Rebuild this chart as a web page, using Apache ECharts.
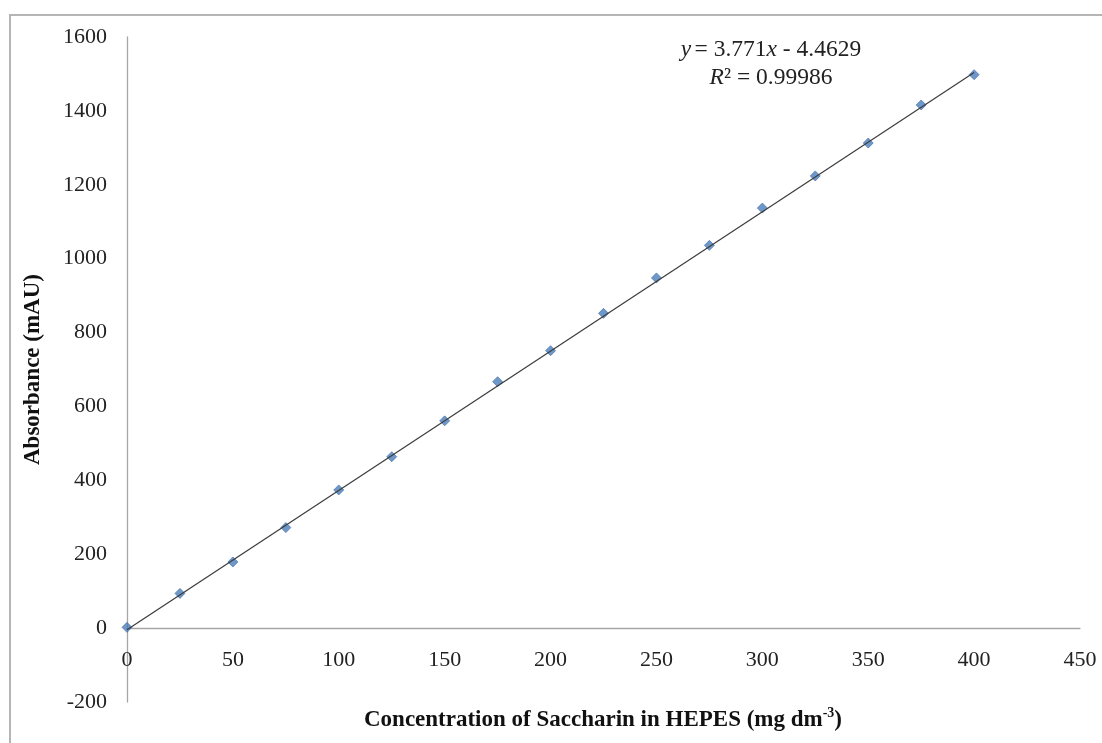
<!DOCTYPE html>
<html>
<head>
<meta charset="utf-8">
<script src="https://cdn.jsdelivr.net/npm/echarts@6/dist/echarts.min.js"></script>
<style>
html,body{margin:0;padding:0;background:#fff;}
#chart{width:1102px;height:743px;}
</style>
</head>
<body>
<div id="chart"></div>
<script>
// Data
var concentrations = [0, 25, 50, 75, 100, 125, 150, 175, 200, 225, 250, 275, 300, 325, 350, 375, 400];
var absorbance = [2, 94, 179, 272, 374, 464, 561, 667, 751, 852, 948, 1036, 1137, 1224, 1313, 1416, 1498];
// Trendline as reported on the chart
var trendSlope = 3.771;
var trendIntercept = -4.4629;
var trendRange = [0, 400];
var xTicks = {min: 0, max: 450, interval: 50};
var yTicks = {min: -200, max: 1600, interval: 200};

var FONT = '"Liberation Serif", "Times New Roman", serif';

var scatterData = concentrations.map(function (c, i) { return [c, absorbance[i]]; });
var trendData = trendRange.map(function (x) { return [x, trendSlope * x + trendIntercept]; });

var chart = echarts.init(document.getElementById('chart'), null, {renderer: 'canvas'});
chart.setOption({
  backgroundColor: '#ffffff',
  animation: false,
  grid: {left: 127, right: 22, top: 37, bottom: 41, containLabel: false},
  xAxis: {
    type: 'value',
    min: xTicks.min, max: xTicks.max, interval: xTicks.interval,
    axisLine: {show: true, onZero: true, lineStyle: {color: '#a6a6a6', width: 1.3}},
    axisTick: {show: false},
    splitLine: {show: false},
    axisLabel: {color: '#222', fontFamily: FONT, fontSize: 22, margin: -53,
      formatter: function (v) { return String(v); }}
  },
  yAxis: {
    type: 'value',
    min: yTicks.min, max: yTicks.max, interval: yTicks.interval,
    axisLine: {show: true, onZero: false, lineStyle: {color: '#a6a6a6', width: 1.3}},
    axisTick: {show: false},
    splitLine: {show: false},
    axisLabel: {color: '#222', fontFamily: FONT, fontSize: 22, margin: 20,
      formatter: function (v) { return String(v); }},
    name: 'Absorbance (mAU)',
    nameLocation: 'middle',
    nameGap: 82,
    nameRotate: 90,
    nameTextStyle: {color: '#111', fontFamily: FONT, fontSize: 23, fontWeight: 'bold'}
  },
  series: [
    {
      type: 'scatter',
      data: scatterData,
      symbol: 'diamond',
      symbolSize: 10,
      itemStyle: {color: '#4a7ebb', borderColor: '#3a6aa5', borderWidth: 0.8},
      z: 2
    },
    {
      type: 'line',
      data: trendData,
      showSymbol: false,
      symbol: 'none',
      lineStyle: {color: '#3c3c3c', width: 1.2},
      z: 3
    }
  ],
  graphic: [
    {
      type: 'rect',
      shape: {x: 10, y: 15, width: 1200, height: 800},
      style: {fill: 'none', stroke: '#b5b5b5', lineWidth: 2},
      silent: true
    },
    {
      type: 'text',
      x: 603, y: 720,
      style: {
        text: '{a|Concentration of Saccharin in HEPES (mg dm}{s|-3}{a|)}',
        align: 'center', verticalAlign: 'middle',
        rich: {
          a: {fontFamily: FONT, fontSize: 23, fontWeight: 'bold', fill: '#111', lineHeight: 27},
          s: {fontFamily: FONT, fontSize: 14, fontWeight: 'bold', fill: '#111', verticalAlign: 'top', lineHeight: 27, padding: [0, 0, 10, 0]}
        }
      }
    },
    {
      type: 'text',
      x: 771, y: 50,
      style: {
        text: '{i|y} {n|= 3.771}{i|x}{n| - 4.4629}',
        align: 'center', verticalAlign: 'middle',
        rich: {
          i: {fontFamily: FONT, fontSize: 23.5, fontStyle: 'italic', fill: '#222'},
          n: {fontFamily: FONT, fontSize: 23.5, fill: '#222'}
        }
      }
    },
    {
      type: 'text',
      x: 771, y: 78,
      style: {
        text: '{i|R}{n|² = 0.99986}',
        align: 'center', verticalAlign: 'middle',
        rich: {
          i: {fontFamily: FONT, fontSize: 23.5, fontStyle: 'italic', fill: '#222'},
          n: {fontFamily: FONT, fontSize: 23.5, fill: '#222'}
        }
      }
    }
  ]
});
</script>
</body>
</html>
